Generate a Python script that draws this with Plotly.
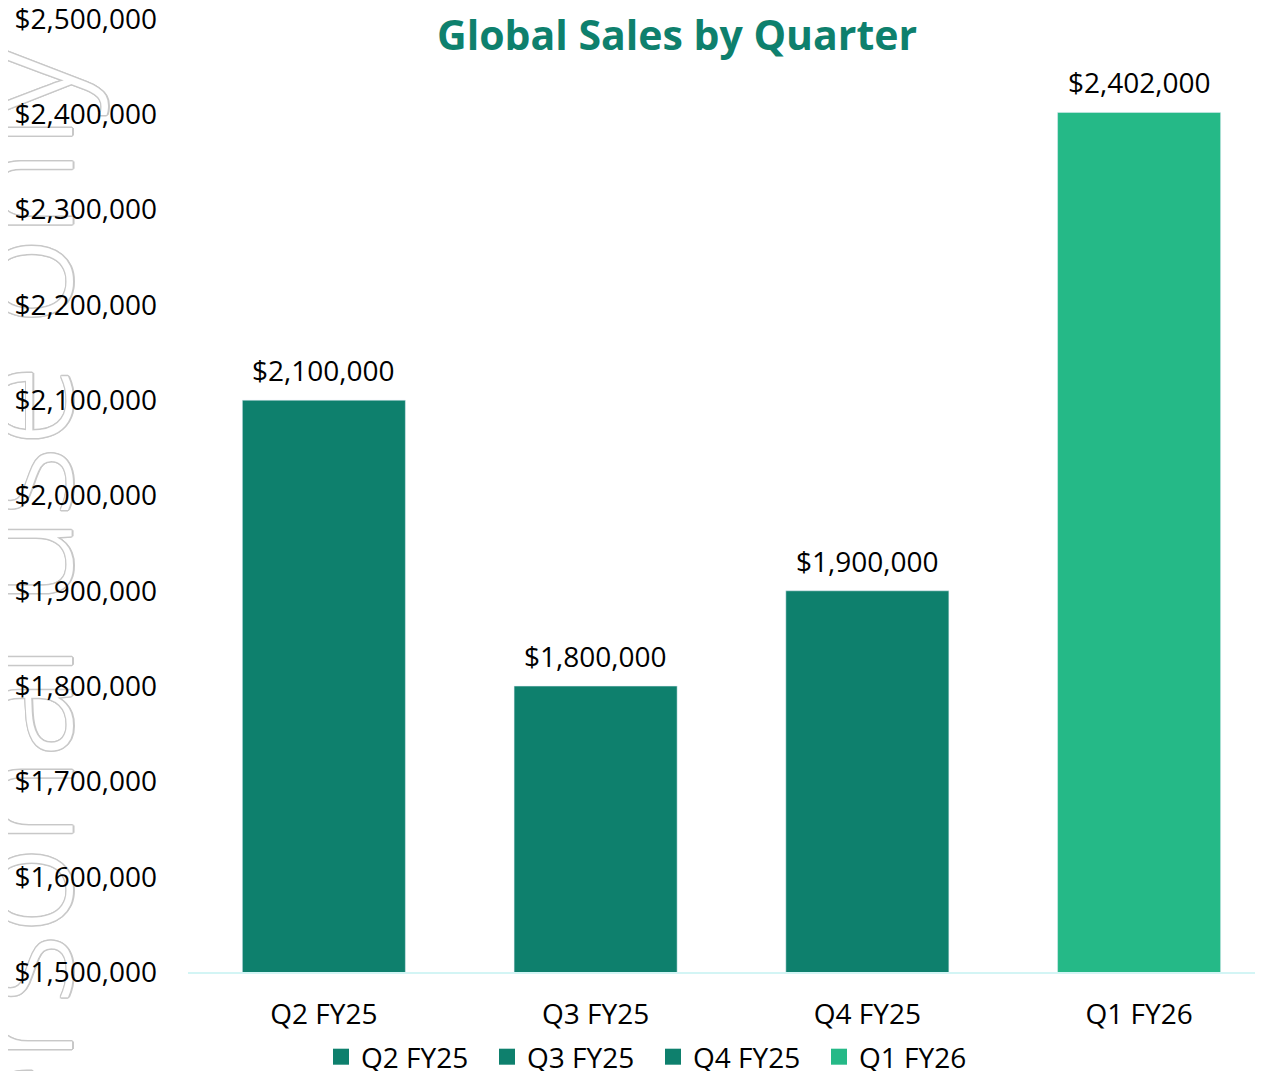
import plotly.graph_objects as go

categories = ["Q2 FY25", "Q3 FY25", "Q4 FY25", "Q1 FY26"]
sales = [2100000, 1800000, 1900000, 2402000]
colors = ["#0E806D", "#0E806D", "#0E806D", "#25B987"]
tick_vals = [1500000, 1600000, 1700000, 1800000, 1900000, 2000000,
             2100000, 2200000, 2300000, 2400000, 2500000]
tick_text = [f"${v:,.0f}" for v in tick_vals]
watermark = "personal use only"

FONT = "Open Sans"
FS = 28
# page has an 8px body margin; figure coords = page coords - 8
OFF = 8
W, H = 1263 - OFF, 1071 - OFF
PL, PT, PB = 188 - OFF, 19 - OFF, 972 - OFF
PW, PH = W - PL, PB - PT


def px_x(x):
    return (x - OFF - PL) / PW


def px_y(y):
    return (PB - (y - OFF)) / PH


fig = go.Figure()

for cat, val, col in zip(categories, sales, colors):
    fig.add_trace(go.Bar(
        x=[cat], y=[val], name=cat, marker_color=col, width=0.6, showlegend=False,
    ))
    fig.add_annotation(
        x=cat, y=val, text=f"${val:,.0f}", showarrow=False, yanchor="bottom", yshift=9,
        font=dict(family=FONT, size=FS, color="#000000"),
    )
for cat, col in zip(categories, colors):
    fig.add_trace(go.Scatter(
        x=[None], y=[None], mode="markers", name=cat,
        marker=dict(symbol="square", size=17, color=col),
    ))

# watermark: outlined rotated text in a shape label drawn below axes
WM = "#c8c8c8"
cx, cy = 24, 640
fig.add_shape(
    type="rect", xref="paper", yref="paper", layer="below",
    x0=px_x(cx - 40), x1=px_x(cx + 40), y0=px_y(cy + 300), y1=px_y(cy - 300),
    line=dict(width=0), fillcolor="rgba(0,0,0,0)",
    label=dict(text=watermark, textangle=-90, textposition="middle center",
               font=dict(family=FONT, size=150, color="white", weight=300,
                         shadow=(f"1.5px 0 0 {WM}, -1.5px 0 0 {WM}, 0 1.5px 0 {WM}, 0 -1.5px 0 {WM}, "
                                 f"1px 1px 0 {WM}, -1px -1px 0 {WM}, 1px -1px 0 {WM}, -1px 1px 0 {WM}"))),
)

fig.update_layout(
    width=W, height=H,
    margin=dict(l=PL, r=0, t=PT, b=H - PB, autoexpand=False),
    plot_bgcolor="white", paper_bgcolor="white",
    barmode="overlay",
    font=dict(family=FONT, size=FS, color="#000000"),
    title=dict(text="<b>Global Sales by Quarter</b>", x=px_x(677), xref="paper",
               y=1 - (36 - OFF) / H, yref="container", xanchor="center", yanchor="middle",
               font=dict(family=FONT, size=41, color="#0E806D")),
    showlegend=True,
    legend=dict(orientation="h", xanchor="left", x=px_x(321), yanchor="middle", y=px_y(1057),
                font=dict(family=FONT, size=FS, color="#000000"),
                entrywidth=121, entrywidthmode="pixels", itemsizing="trace",
                bgcolor="rgba(0,0,0,0)"),
    xaxis=dict(
        range=[-0.5, 3.456], showgrid=False, showline=True, linecolor="#D3F5F5", linewidth=2,
        ticks="", ticklabelstandoff=16, tickfont=dict(family=FONT, size=FS, color="#000000"),
        zeroline=False, automargin=False,
    ),
    yaxis=dict(
        range=[1500000, 2500000], tickvals=tick_vals, ticktext=tick_text,
        showgrid=False, zeroline=False, showline=False, ticks="",
        ticklabelstandoff=30, ticklabeloverflow="allow",
        tickfont=dict(family=FONT, size=FS, color="#000000"),
        automargin=False,
    ),
)

fig.write_html("out.html")
